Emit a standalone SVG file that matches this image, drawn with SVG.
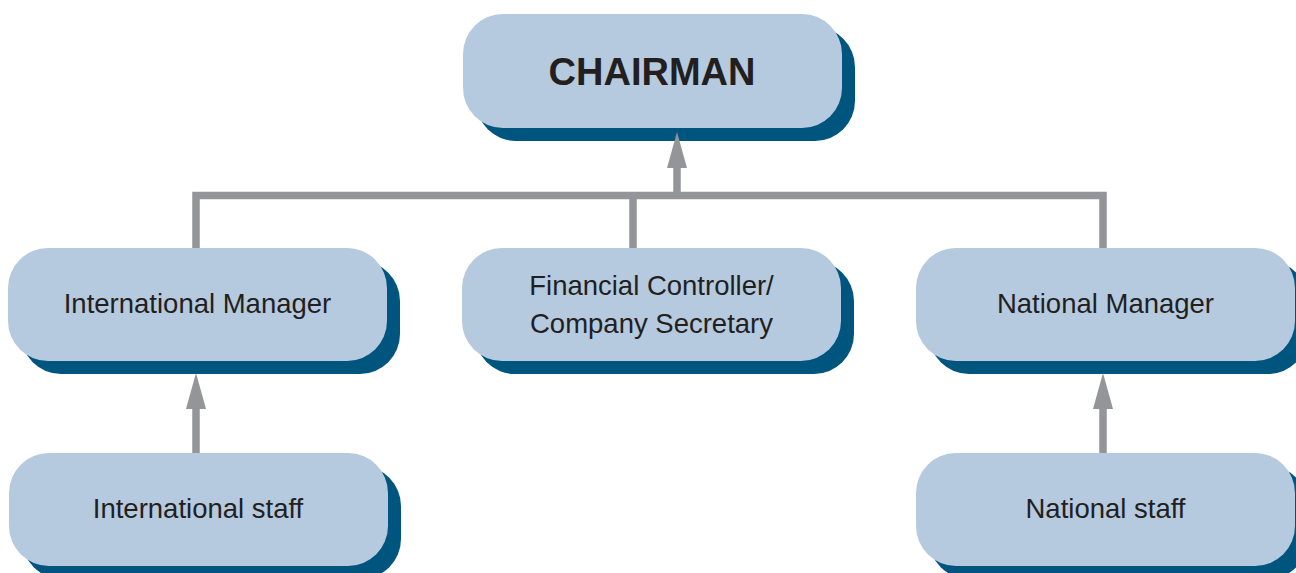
<svg xmlns="http://www.w3.org/2000/svg" width="1296" height="573" viewBox="0 0 1296 573">
  <style>
    .shadow { fill: #00557f; }
    .box { fill: #b5c9df; }
    .label { font-family: "Liberation Sans", Arial, Helvetica, sans-serif; font-size: 27.5px; fill: #231f20; text-anchor: middle; }
    .title { font-family: "Liberation Sans", Arial, Helvetica, sans-serif; font-size: 38px; font-weight: bold; fill: #231f20; text-anchor: middle; }
    .wire { fill: none; stroke: #939598; stroke-width: 7.5; stroke-linecap: butt; stroke-linejoin: miter; }
  </style>
  <defs>
    <marker id="arrow" markerUnits="userSpaceOnUse" viewBox="0 0 36 20" refX="0" refY="10" markerWidth="36" markerHeight="20" orient="auto">
      <path d="M0,0 L36,10 L0,20 Z" fill="#939598"/>
    </marker>
  </defs>

  <rect width="1296" height="573" fill="#ffffff"/>

  <!-- Top level -->
  <g id="chairman">
    <rect class="shadow" x="476" y="27" width="379" height="114" rx="40" ry="40"/>
    <rect class="box" x="463" y="14" width="379" height="114" rx="40" ry="40"/>
    <text class="title" x="652" y="85">CHAIRMAN</text>
  </g>

  <!-- Second level -->
  <g id="international-manager">
    <rect class="shadow" x="21" y="261" width="379" height="113" rx="40" ry="40"/>
    <rect class="box" x="8" y="248" width="379" height="113" rx="40" ry="40"/>
    <text class="label" x="197.5" y="313">International Manager</text>
  </g>

  <g id="financial-controller">
    <rect class="shadow" x="475" y="261" width="379" height="113" rx="40" ry="40"/>
    <rect class="box" x="462" y="248" width="379" height="113" rx="40" ry="40"/>
    <text class="label" x="651.5" y="295">Financial Controller/</text>
    <text class="label" x="651.5" y="333">Company Secretary</text>
  </g>

  <g id="national-manager">
    <rect class="shadow" x="929" y="261" width="379" height="113" rx="40" ry="40"/>
    <rect class="box" x="916" y="248" width="379" height="113" rx="40" ry="40"/>
    <text class="label" x="1105.5" y="313">National Manager</text>
  </g>

  <!-- Third level -->
  <g id="international-staff">
    <rect class="shadow" x="22" y="466" width="379" height="113" rx="40" ry="40"/>
    <rect class="box" x="9" y="453" width="379" height="113" rx="40" ry="40"/>
    <text class="label" x="198" y="518">International staff</text>
  </g>

  <g id="national-staff">
    <rect class="shadow" x="929" y="466" width="379" height="113" rx="40" ry="40"/>
    <rect class="box" x="916" y="453" width="379" height="113" rx="40" ry="40"/>
    <text class="label" x="1105.5" y="518">National staff</text>
  </g>

  <!-- Reporting lines -->
  <g id="connectors">
    <path class="wire" d="M196,248 V195.5 H1103 V248"/>
    <path class="wire" d="M633,195.5 V248"/>
    <path class="wire" d="M677,199 V168" marker-end="url(#arrow)"/>
    <path class="wire" d="M196,453 V409" marker-end="url(#arrow)"/>
    <path class="wire" d="M1103,453 V409" marker-end="url(#arrow)"/>
  </g>
</svg>
